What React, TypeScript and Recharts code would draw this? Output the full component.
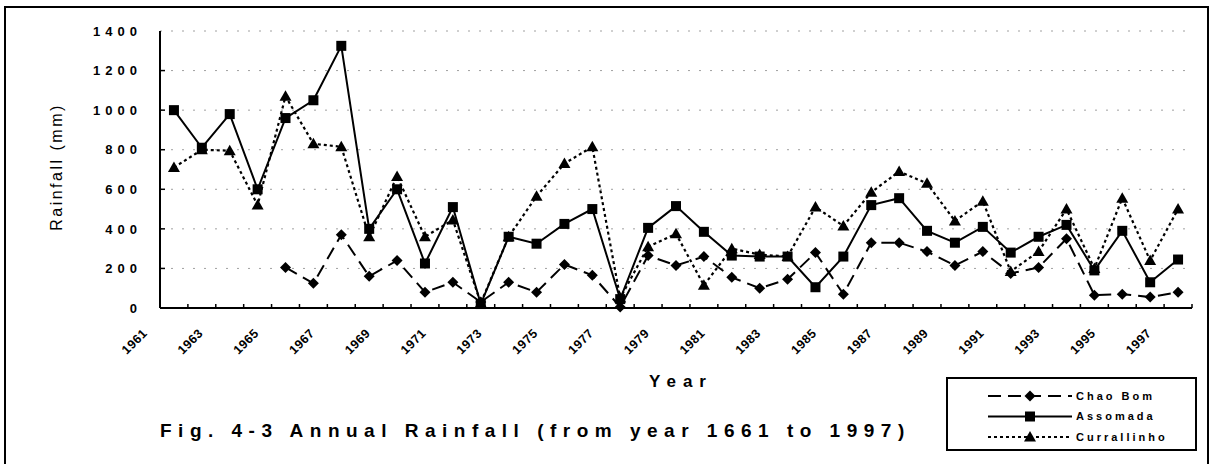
import React from 'react';
import { LineChart, Line, XAxis, YAxis, CartesianGrid, Legend } from 'recharts';

const years = ['1961','1962','1963','1964','1965','1966','1967','1968','1969','1970','1971','1972','1973','1974','1975','1976','1977','1978','1979','1980','1981','1982','1983','1984','1985','1986','1987','1988','1989','1990','1991','1992','1993','1994','1995','1996','1997'];
const chaoBom = [null,null,null,null,205,125,370,160,240,80,130,30,130,80,220,165,5,265,215,260,155,100,145,280,70,330,330,285,215,285,175,205,350,65,70,55,80];
const assomada = [1000,810,980,600,960,1050,1325,400,600,225,510,20,360,325,425,500,45,405,515,385,265,260,260,105,260,520,555,390,330,410,280,360,420,190,390,130,245];
const currallinho = [710,800,795,520,1070,830,815,360,665,360,445,25,360,565,730,815,50,310,375,115,300,270,260,510,415,585,690,630,440,540,185,285,500,200,555,240,500];
const yTicks = [0,200,400,600,800,1000,1200,1400];
const seriesNames = ['Chao Bom','Assomada','Currallinho'];

const data = years.map((y, i) => ({ year: y, chaoBom: chaoBom[i], assomada: assomada[i], currallinho: currallinho[i] }));

const W = 1210, H = 464;
const M = { top: 31, right: 18, bottom: 0, left: 0 };
const YW = 160, XH = 156;
const PLOT_L = M.left + YW;
const PLOT_R = W - M.right;
const PLOT_B = H - XH;
const BW = (PLOT_R - PLOT_L) / years.length;
const PAD = { left: BW / 2, right: BW / 2 };
const FONT = '"Liberation Sans", Arial, sans-serif';

const Diamond = ({ cx, cy, s = 5.5 }: any) =>
  <path d={`M${cx},${cy - s}L${cx + s},${cy}L${cx},${cy + s}L${cx - s},${cy}Z`} fill="#000" />;
const Square = ({ cx, cy, s = 5 }: any) =>
  <rect x={cx - s} y={cy - s} width={2 * s} height={2 * s} fill="#000" />;
const Triangle = ({ cx, cy, s = 6 }: any) =>
  <path d={`M${cx},${cy - s}L${cx + s},${cy + s * 0.75}L${cx - s},${cy + s * 0.75}Z`} fill="#000" />;

const dotOf = (Shape: any) => (p: any) => {
  if (p.value == null || p.cy == null || isNaN(p.cy)) return <g key={p.key} />;
  return <g key={p.key}><Shape cx={p.cx} cy={p.cy} /></g>;
};

const XTick = (props: any) => {
  const { x, payload, index } = props;
  return (
    <g>
      <line x1={x + BW / 2} x2={x + BW / 2} y1={PLOT_B} y2={PLOT_B - 4} stroke="#000" strokeWidth={1.5} />
      {index % 2 === 0 && (
        <g transform={`translate(${x - 26},${PLOT_B + 26})`}>
          <g transform="rotate(-45)">
            <text x={0} y={0} textAnchor="end" fontFamily={FONT} fontWeight="bold" fontSize={12.5}
              letterSpacing={0.5} fill="#000">{payload.value}</text>
          </g>
        </g>
      )}
    </g>
  );
};

const YTick = (props: any) => {
  const { y, payload } = props;
  return (
    <g>
      {payload.value !== 0 && payload.value !== 1400 &&
        <line x1={PLOT_L} x2={PLOT_L + 5} y1={y} y2={y} stroke="#000" strokeWidth={1.5} />}
      <text x={142} y={y} dy="0.36em" textAnchor="end" fontFamily={FONT} fontWeight="bold"
        fontSize={13} letterSpacing={5} fill="#000">{payload.value}</text>
    </g>
  );
};

const LegendBox = () => {
  const rows = [
    { name: seriesNames[0], dash: '13 7', Shape: Diamond, w: 2 },
    { name: seriesNames[1], dash: undefined, Shape: Square, w: 2 },
    { name: seriesNames[2], dash: '3 3', Shape: Triangle, w: 2 },
  ];
  return (
    <svg width={251} height={74} style={{ display: 'block' }}>
      <rect x={1} y={1} width={249} height={72} fill="#fff" stroke="#000" strokeWidth={2} />
      {rows.map((r, i) => {
        const cy = 19 + i * 20.5;
        return (
          <g key={r.name}>
            <line x1={42} x2={126} y1={cy} y2={cy} stroke="#000" strokeWidth={r.w} strokeDasharray={r.dash} />
            <r.Shape cx={84} cy={cy} />
            <text x={130} y={cy} dy="0.36em" fontFamily={FONT} fontWeight="bold" fontSize={11}
              letterSpacing={3} fill="#000">{r.name}</text>
          </g>
        );
      })}
    </svg>
  );
};

export default function App() {
  return (
    <div style={{ position: 'absolute', left: 0, top: 0, width: W, height: H, background: '#fff' }}>
      <LineChart width={W} height={H} data={data} margin={M}>
        <CartesianGrid vertical={false} stroke="#a0a0a0" strokeDasharray="2 9" />
        <XAxis dataKey="year" interval={0} height={XH} tickLine={false} padding={PAD}
          axisLine={{ stroke: '#000', strokeWidth: 2 }} tick={<XTick />} />
        <XAxis xAxisId="top" dataKey="year" orientation="top" height={0} tick={false} tickLine={false}
          padding={PAD} axisLine={{ stroke: '#000', strokeWidth: 2 }} />
        <YAxis domain={[0, 1400]} ticks={yTicks} width={YW} tickLine={false} interval={0}
          axisLine={{ stroke: '#000', strokeWidth: 2 }} tick={<YTick />} />
        <YAxis yAxisId="right" orientation="right" domain={[0, 1400]} width={0} tick={false} tickLine={false}
          axisLine={{ stroke: '#000', strokeWidth: 2 }} />
        <Legend layout="vertical" align="center" verticalAlign="middle" content={<LegendBox />}
          wrapperStyle={{ position: 'absolute', left: 946, top: 377, width: 251, height: 74, margin: 0 }} />
        <Line dataKey="chaoBom" name={seriesNames[0]} stroke="#000" strokeWidth={2} strokeDasharray="13 7"
          dot={dotOf(Diamond)} isAnimationActive={false} connectNulls={false} />
        <Line dataKey="assomada" name={seriesNames[1]} stroke="#000" strokeWidth={2}
          dot={dotOf(Square)} isAnimationActive={false} />
        <Line dataKey="currallinho" name={seriesNames[2]} stroke="#000" strokeWidth={2.2} strokeDasharray="3 3"
          dot={dotOf(Triangle)} isAnimationActive={false} />
      </LineChart>
      <svg width={W} height={H} style={{ position: 'absolute', left: 0, top: 0, pointerEvents: 'none' }}>
        <rect x={5} y={7} width={1203} height={490} fill="none" stroke="#000" strokeWidth={2} />
        <text transform="translate(56,167) rotate(-90)" textAnchor="middle" dy="0.36em" fontFamily={FONT}
          fontSize={16} letterSpacing={2.5} fill="#000">Rainfall (mm)</text>
        <text x={681} y={387} textAnchor="middle" fontFamily={FONT} fontWeight="bold" fontSize={17}
          letterSpacing={7} fill="#000">Year</text>
        <text x={160} y={437} fontFamily={FONT} fontWeight="bold" fontSize={19} letterSpacing={6.5}
          fill="#000">Fig. 4-3 Annual Rainfall (from year 1661 to 1997)</text>
      </svg>
    </div>
  );
}
